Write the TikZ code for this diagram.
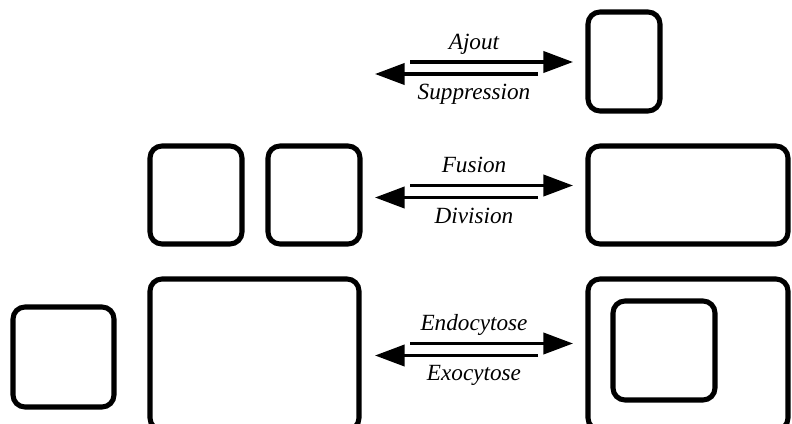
\documentclass[tikz,border=0pt]{standalone}
\usepackage{fontspec}
\setmainfont{Liberation Serif}
\usetikzlibrary{arrows.meta}
\tikzset{
  cell/.style 2 args={draw,line width=3.6pt,rounded corners=8.5pt,minimum width=#1*0.025cm,minimum height=#2*0.025cm,inner sep=0pt},
  fleche/.style={line width=2.4pt,-{Triangle[length=21pt,width=15pt]}},
  lbl/.style={font=\fontsize{16.5}{19}\selectfont\itshape,inner sep=0pt},
}

\begin{document}
\begin{tikzpicture}[x=0.025cm,y=-0.025cm]
\useasboundingbox (0,0) rectangle (792,423);
\clip (0,0) rectangle (792,423);
% ajout / suppression
\node[cell={72}{99}] (mono) at (624,61.5) {};
% fusion / division
\node[cell={92}{98}] (fragA) at (196,195) {};
\node[cell={92}{98}] (fragB) at (314,195) {};
\node[cell={200}{98}] (fusionne) at (688,195) {};
% endocytose / exocytose
\node[cell={101}{100}] (vesicule) at (63.5,357) {};
\node[cell={209}{151}] (membrane) at (254.5,354.5) {};
\node[cell={200}{151}] (externe) at (688,354.5) {};
\node[cell={102}{99}] (interne) at (664,350.5) {};
\foreach \n/\y/\a/\b in {r1/68/Ajout/Suppression,r2/191.5/Fusion/Division,r3/349.5/Endocytose/Exocytose}{
  \coordinate (\n-ga) at (410,\y-6);
  \coordinate (\n-da) at (573,\y-6);
  \coordinate (\n-gr) at (375,\y+6);
  \coordinate (\n-dr) at (538,\y+6);
  \draw[fleche] (\n-ga) -- (\n-da);
  \draw[fleche] (\n-dr) -- (\n-gr);
  \node[lbl,anchor=base] (\n-haut) at (474,\y-19) {\a};
  \node[lbl,anchor=north] (\n-bas) at (474,\y+16) {\b};
}
\end{tikzpicture}
\end{document}
